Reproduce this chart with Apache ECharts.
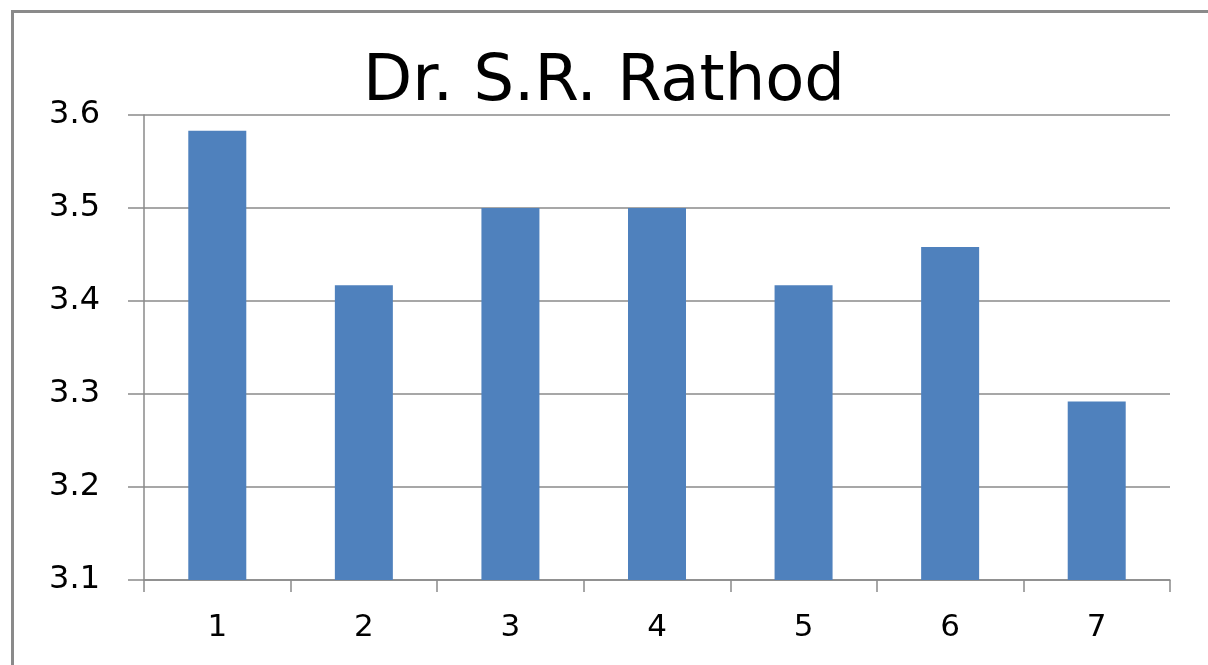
<!DOCTYPE html>
<html>
<head>
<meta charset="utf-8">
<script src="https://cdn.jsdelivr.net/npm/echarts@6/dist/echarts.min.js"></script>
<style>
  html, body { margin: 0; padding: 0; background: #fff; }
  #main { width: 1208px; height: 665px; }
</style>
</head>
<body>
<div id="main"></div>
<script>
var categories = ['1', '2', '3', '4', '5', '6', '7'];
var values = [3.583, 3.417, 3.5, 3.5, 3.417, 3.458, 3.292];

var myChart = echarts.init(document.getElementById('main'));
var option = {
  animation: false,
  backgroundColor: '#fff',
  title: {
    text: 'Dr. S.R. Rathod',
    left: 'center',
    top: 46,
    textStyle: {
      fontFamily: 'DejaVu Sans',
      fontWeight: 'normal',
      fontSize: 64,
      color: '#000'
    }
  },
  graphic: [{
    type: 'rect',
    shape: { x: 12.5, y: 11.5, width: 1300, height: 800 },
    style: { fill: 'none', stroke: '#8a8a8a', lineWidth: 3 }
  }],
  grid: { left: 144, right: 38, top: 115, bottom: 85 },
  xAxis: {
    type: 'category',
    data: categories,
    axisLine: { lineStyle: { color: '#8a8a8a', width: 1.5 } },
    axisTick: { show: true, length: 12, alignWithLabel: false, lineStyle: { color: '#8a8a8a', width: 1.5 } },
    axisLabel: { fontFamily: 'DejaVu Sans', fontSize: 31, color: '#000', margin: 32 }
  },
  yAxis: {
    type: 'value',
    min: 3.1,
    max: 3.6,
    interval: 0.1,
    axisLine: { show: true, lineStyle: { color: '#8a8a8a', width: 1.5 } },
    axisTick: { show: true, length: 16, lineStyle: { color: '#8a8a8a', width: 1.5 } },
    splitLine: { lineStyle: { color: '#8a8a8a', width: 1.5 } },
    axisLabel: {
      fontFamily: 'DejaVu Sans', fontSize: 32, color: '#000', margin: 44,
      formatter: function (v) { return v.toFixed(1); }
    }
  },
  series: [{
    type: 'bar',
    data: values,
    barWidth: 58,
    itemStyle: { color: '#4F81BD' }
  }]
};
myChart.setOption(option);
</script>
</body>
</html>
